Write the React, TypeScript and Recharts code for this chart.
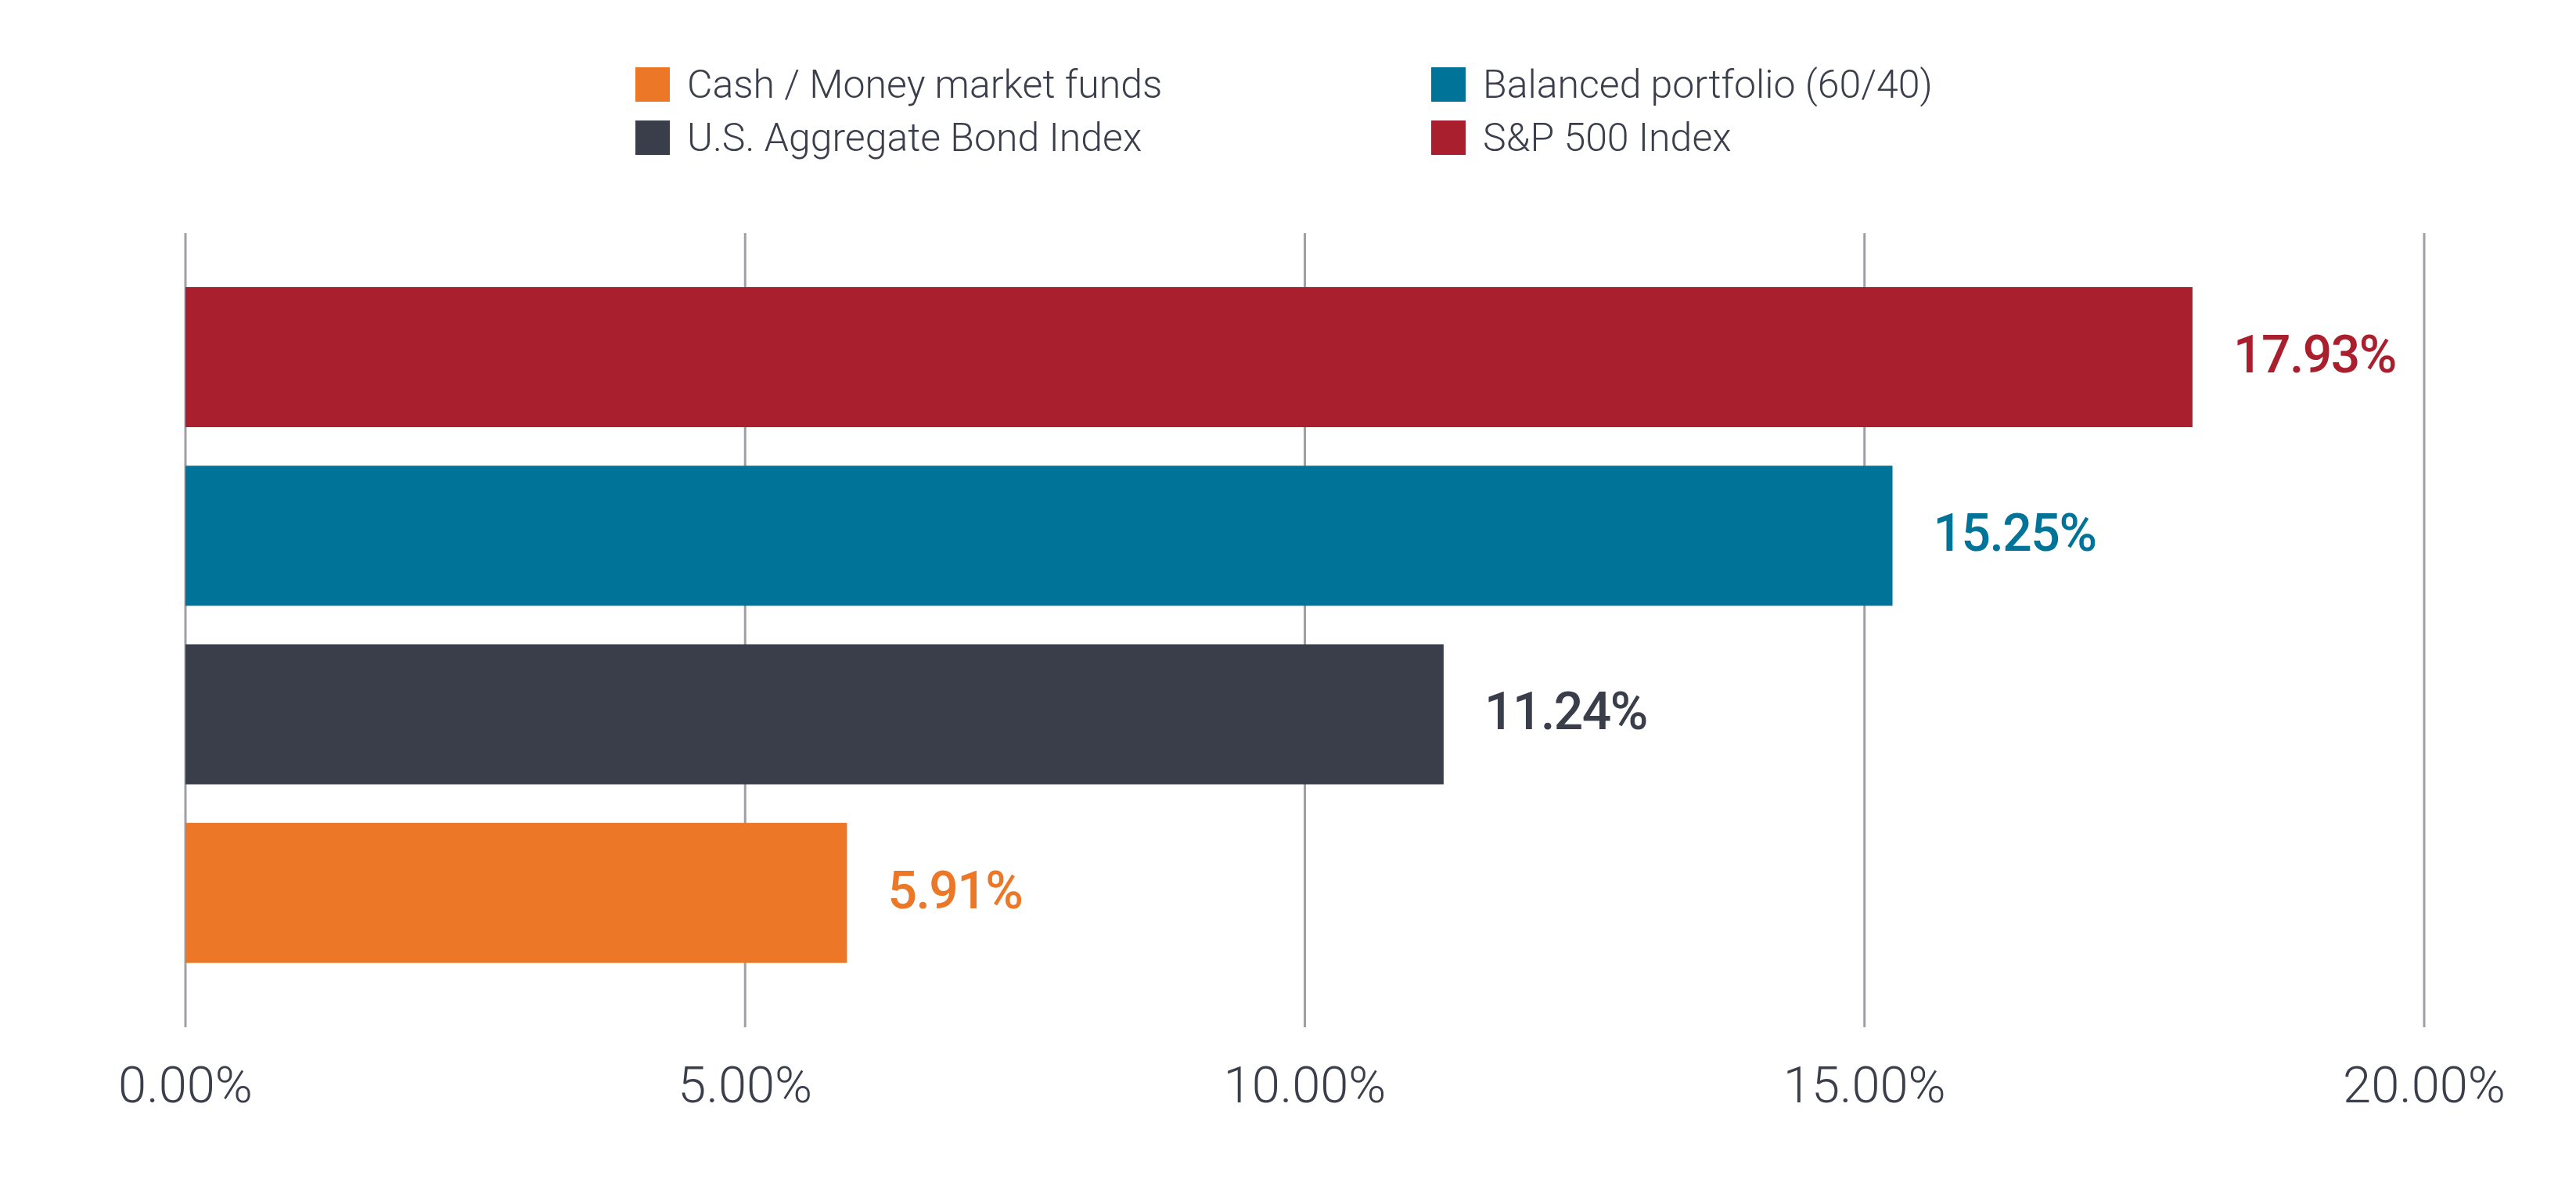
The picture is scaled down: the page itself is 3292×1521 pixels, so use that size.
import React from "react";
import {
  BarChart,
  Bar,
  XAxis,
  YAxis,
  CartesianGrid,
  Cell,
  LabelList,
} from "recharts";

// Bars top to bottom
const CATEGORIES = [
  "S&P 500 Index",
  "Balanced portfolio (60/40)",
  "U.S. Aggregate Bond Index",
  "Cash / Money market funds",
];
const RETURNS = [17.93, 15.25, 11.24, 5.91];
const BAR_COLORS = ["#aa1f2e", "#007399", "#3a3d4a", "#eb7727"];

// Legend reads in two columns, left then right
const LEGEND_ORDER = [
  "Cash / Money market funds",
  "Balanced portfolio (60/40)",
  "U.S. Aggregate Bond Index",
  "S&P 500 Index",
];

const X_TICKS = [0, 5, 10, 15, 20];

const TEXT_COLOR = "#3b3e4b";
const GRID_COLOR = "#9e9fa7";
const FONT = "Roboto, 'Noto Sans', sans-serif";

const data = CATEGORIES.map((name, i) => ({
  name,
  value: RETURNS[i],
  color: BAR_COLORS[i],
}));

function ValueLabel(props: any) {
  const { x, y, width, height, index } = props;
  const d = data[index];
  return (
    <text
      x={x + width + 52}
      y={y + height / 2 - 4}
      dy="0.355em"
      fill={d.color}
      fontSize={66}
      fontWeight={500}
      fontFamily={FONT}
      letterSpacing={-1.5}
      textAnchor="start"
    >
      {d.value.toFixed(2)}%
    </text>
  );
}

function ChartLegend() {
  const colX = [812, 1829];
  const rowY = [86, 154];
  return (
    <>
      {LEGEND_ORDER.map((name, i) => {
        const idx = CATEGORIES.indexOf(name);
        const left = colX[i % 2];
        const top = rowY[Math.floor(i / 2)];
        return (
          <div
            key={name}
            style={{
              position: "absolute",
              left,
              top,
              height: 44,
              display: "flex",
              alignItems: "center",
              whiteSpace: "nowrap",
            }}
          >
            <span
              style={{
                width: 44,
                height: 44,
                background: BAR_COLORS[idx],
                display: "inline-block",
              }}
            />
            <span
              style={{
                marginLeft: 22,
                fontFamily: FONT,
                fontWeight: 300,
                fontSize: 50,
                color: TEXT_COLOR,
                lineHeight: "44px",
              }}
            >
              {name}
            </span>
          </div>
        );
      })}
    </>
  );
}

export default function App() {
  return (
    <div
      style={{
        position: "absolute",
        left: 0,
        top: 0,
        width: 3292,
        height: 1521,
        background: "#ffffff",
      }}
    >
      <ChartLegend />
      <BarChart
        width={3292}
        height={1521}
        data={data}
        layout="vertical"
        margin={{ top: 298, right: 194, bottom: 88, left: 237 }}
        barSize={179}
      >
        <CartesianGrid
          horizontal={false}
          stroke={GRID_COLOR}
          strokeWidth={3}
        />
        <XAxis
          type="number"
          domain={[0, 20]}
          ticks={X_TICKS}
          interval={0}
          axisLine={false}
          tickLine={false}
          tickSize={0}
          tickMargin={50}
          height={120}
          tickFormatter={(v: number) => `${v.toFixed(2)}%`}
          tick={{
            fill: TEXT_COLOR,
            fontSize: 65,
            fontWeight: 300,
            fontFamily: FONT,
          }}
        />
        <YAxis
          type="category"
          dataKey="name"
          hide
          padding={{ top: 44, bottom: 58 }}
        />
        <Bar dataKey="value" isAnimationActive={false}>
          {data.map((d) => (
            <Cell key={d.name} fill={d.color} />
          ))}
          <LabelList dataKey="value" content={ValueLabel} />
        </Bar>
      </BarChart>
    </div>
  );
}
